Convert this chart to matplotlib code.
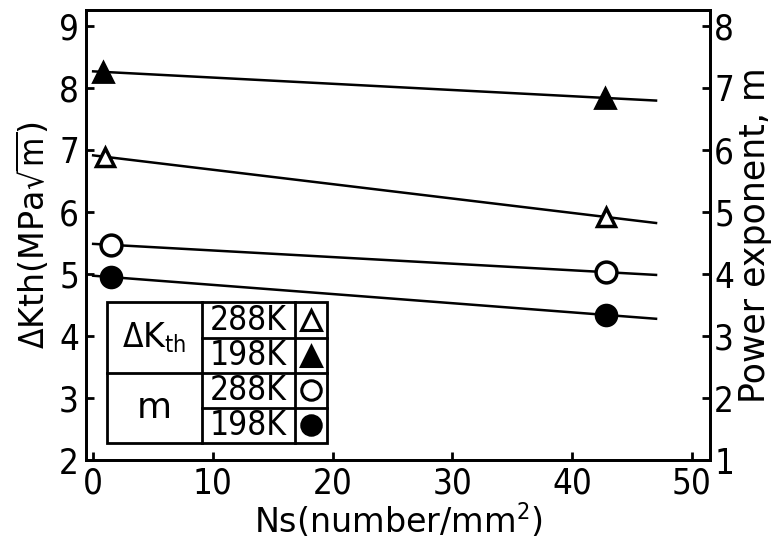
import numpy as np
import matplotlib
matplotlib.use("Agg")
import matplotlib.pyplot as plt
from matplotlib.patches import Rectangle

plt.rcParams['font.family'] = ['DejaVu Sans']
plt.rcParams['font.stretch'] = 'condensed'
plt.rcParams['mathtext.fontset'] = 'dejavusans'

# ---- data ----
ns_dk_198 = [0.8, 42.7]
dk_198 = [8.26, 7.84]
ns_dk_288 = [1.0, 42.8]
dk_288 = [6.89, 5.92]
ns_m = [1.5, 42.8]
m_288 = [4.47, 4.03]
m_198 = [3.95, 3.34]
line_span = [0.0, 47.0]

xticks = [0, 10, 20, 30, 40, 50]
left_ticks = [2, 3, 4, 5, 6, 7, 8, 9]
right_ticks = [1, 2, 3, 4, 5, 6, 7, 8]

fig = plt.figure(figsize=(7.78, 5.47), dpi=100)
ax = fig.add_axes([0.1105, 0.159, 0.802, 0.823])
ax2 = ax.twinx()

ax.set_xlim(-0.6, 51.5)
ax.set_ylim(2, 9.26)
ax2.set_ylim(1, 8.26)

lw_line = 1.8
def fitline(a, xs, ys):
    c = np.polyfit(xs, ys, 1)
    xx = np.array(line_span)
    a.plot(xx, np.polyval(c, xx), color='black', lw=lw_line, zorder=2)

# dK lines (left axis)
fitline(ax, ns_dk_198, dk_198)
ax.plot(ns_dk_198, dk_198, linestyle='none', marker='^', ms=14, mfc='black', mec='black', mew=2, zorder=3)
fitline(ax, ns_dk_288, dk_288)
ax.plot(ns_dk_288, dk_288, linestyle='none', marker='^', ms=13, mfc='white', mec='black', mew=2.5, zorder=3)

# m lines (right axis)
fitline(ax2, ns_m, m_288)
ax2.plot(ns_m, m_288, linestyle='none', marker='o', ms=15, mfc='white', mec='black', mew=2.5, zorder=3)
fitline(ax2, ns_m, m_198)
ax2.plot(ns_m, m_198, linestyle='none', marker='o', ms=15, mfc='black', mec='black', mew=2, zorder=3)

# ticks and spines
ax.set_xticks(xticks)
ax.set_yticks(left_ticks)
ax2.set_yticks(right_ticks)
for a in (ax, ax2):
    for s in a.spines.values():
        s.set_linewidth(2)
ax.tick_params(axis='both', direction='in', length=6, width=2, labelsize=25)
ax.tick_params(axis='y', pad=5)
ax.tick_params(axis='x', pad=5)
ax2.tick_params(axis='y', direction='in', length=6, width=2, labelsize=25, pad=3)

ax.set_xlabel('Ns(number/mm$^2$)', fontsize=24, fontstretch='normal', labelpad=0)
ax.set_ylabel(r'$\Delta$Kth(MPa$\sqrt{\rm m}$)', fontsize=24, fontstretch='normal', labelpad=6)
ax2.set_ylabel('Power exponent, m', fontsize=25, fontstretch='normal', labelpad=3)

# legend table
xe = [0.034, 0.186, 0.335, 0.386]
ye = [0.351, 0.271, 0.193, 0.116, 0.038]
T = ax2.transAxes
ax2.add_patch(Rectangle((xe[0], ye[-1]), xe[-1]-xe[0], ye[0]-ye[-1], transform=T,
                        fill=True, fc='white', ec='black', lw=2, zorder=5))
ax2.plot([xe[1], xe[1]], [ye[0], ye[-1]], transform=T, color='black', lw=2, zorder=6)
ax2.plot([xe[2], xe[2]], [ye[0], ye[-1]], transform=T, color='black', lw=2, zorder=6)
ax2.plot([xe[0], xe[3]], [ye[2], ye[2]], transform=T, color='black', lw=2, zorder=6)
for yy in (ye[1], ye[3]):
    ax2.plot([xe[1], xe[3]], [yy, yy], transform=T, color='black', lw=2, zorder=6)

row_labels = ['288K', '198K', '288K', '198K']
row_markers = [('^', 'white'), ('^', 'black'), ('o', 'white'), ('o', 'black')]
for i, (lab, (mk, fc)) in enumerate(zip(row_labels, row_markers)):
    yc = (ye[i] + ye[i+1]) / 2
    ax2.text((xe[1]+xe[2])/2, yc, lab, transform=T, ha='center', va='center',
             fontsize=24, zorder=7)
    ax2.plot([(xe[2]+xe[3])/2], [yc], transform=T, marker=mk, ms=14,
             mfc=fc, mec='black', mew=2.2, linestyle='none', zorder=7)
ax2.text((xe[0]+xe[1])/2, (ye[0]+ye[2])/2, r'$\Delta$K$_{\rm th}$', transform=T,
         ha='center', va='center', fontsize=24, fontstretch='normal', zorder=7)
ax2.text((xe[0]+xe[1])/2, (ye[2]+ye[4])/2, 'm', transform=T,
         ha='center', va='center', fontsize=26, fontstretch='normal', zorder=7)

fig.savefig('out.png', dpi=100)
